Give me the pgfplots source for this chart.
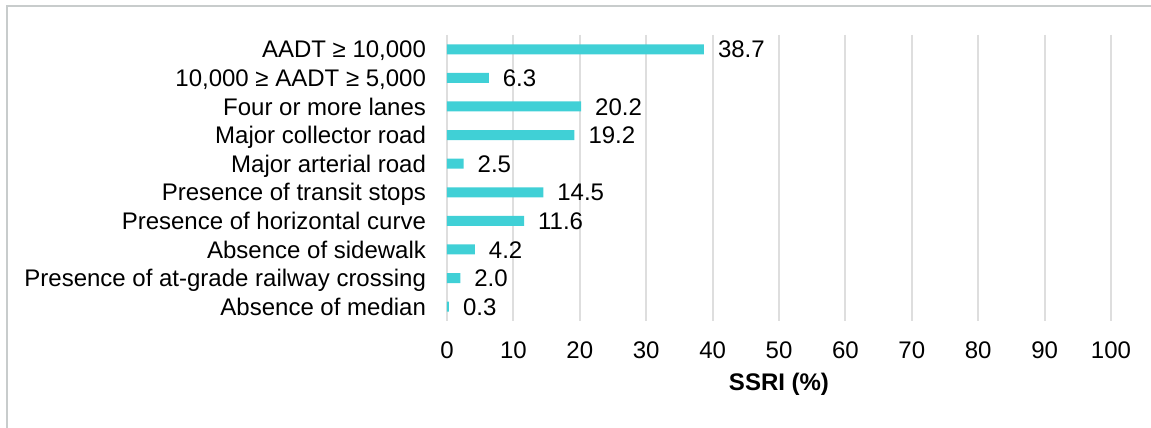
\documentclass[border=0pt]{standalone}
\usepackage{fontspec}
\setmainfont{Liberation Sans}
\usepackage{pgfplots}
\pgfplotsset{compat=1.18}
\definecolor{barcyan}{RGB}{64,208,214}
\definecolor{gridgray}{RGB}{222,222,222}
\definecolor{framegray}{RGB}{200,204,204}
\begin{document}
\begin{tikzpicture}
\useasboundingbox (0,0) rectangle (575.5pt,214pt);
\draw[framegray, line width=1pt] (3.5pt,0) -- (3.5pt,211pt) -- (575.5pt,211pt);
\begin{axis}[
  at={(223.5pt,53.5pt)}, anchor=south west,
  width=332pt, height=143pt, scale only axis,
  xbar, bar width=5pt,
  xmin=0, xmax=100, xtick={0,10,...,100},
  ymin=-0.5, ymax=9.5, y dir=reverse,
  ytick={0,...,9},
  yticklabels={{AADT ≥ 10,000}, {10,000 ≥ AADT ≥ 5,000}, {Four or more lanes}, {Major collector road}, {Major arterial road}, {Presence of transit stops}, {Presence of horizontal curve}, {Absence of sidewalk}, {Presence of at-grade railway crossing}, {Absence of median}},
  axis line style={draw=none},
  major tick length=0pt,
  xmajorgrids, grid style={gridgray, line width=1pt},
  /pgf/number format/assume math mode=true,
  tick label style={font=\fontsize{12}{14}\selectfont},
  xticklabel style={anchor=center, yshift=-14.5pt},
  yticklabel style={anchor=base east, xshift=-7pt, yshift=-4.3pt},
  xlabel={\textbf{SSRI (\%)}},
  xlabel style={at={(axis description cs:0.5,-0.2203)}, anchor=center, font=\fontsize{12}{14}\selectfont},
  nodes near coords={\pgfmathprintnumber[fixed,fixed zerofill,precision=1]{\pgfplotspointmeta}},
  nodes near coords style={anchor=base west, xshift=3.5pt, yshift=-4.3pt, font=\fontsize{12}{14}\selectfont, black},
  clip=false,
]
\addplot[fill=barcyan, draw=none] coordinates {
  (38.7,0) (6.3,1) (20.2,2) (19.2,3) (2.5,4) (14.5,5) (11.6,6) (4.2,7) (2.0,8) (0.3,9)
};
\end{axis}
\end{tikzpicture}
\end{document}
